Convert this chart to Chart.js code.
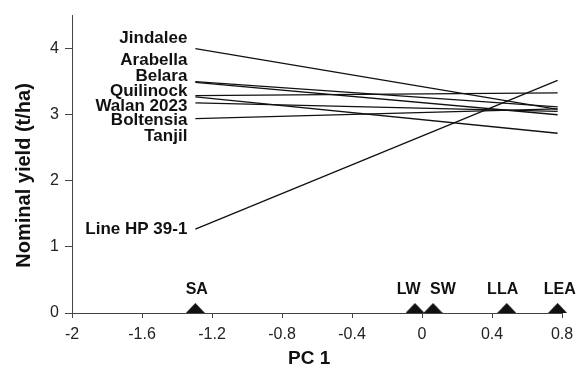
<!DOCTYPE html>
<html>
<head>
<meta charset="utf-8">
<script src="https://cdn.jsdelivr.net/npm/chart.js@4/dist/chart.umd.min.js"></script>
<style>
  html, body { margin: 0; padding: 0; background: #fff; }
  canvas { display: block; }
</style>
</head>
<body>
<canvas id="chart" width="584" height="372"></canvas>
<script>
// cultivars, yield at the SA end and at the LEA end of each line
const cultivars = ['Jindalee', 'Arabella', 'Belara', 'Quilinock', 'Walan 2023', 'Boltensia', 'Tanjil', 'Line HP 39-1'];
const yieldAtSA = [4.00, 3.50, 3.49, 3.29, 3.27, 3.18, 2.94, 1.27];
const yieldAtLEA = [3.08, 3.12, 3.00, 3.33, 2.72, 3.05, 3.09, 3.52];
// where the cultivar names sit (y, t/ha)
const cultivarLabelY = [4.15, 3.82, 3.58, 3.36, 3.13, 2.91, 2.67, 1.26];

// environments on PC 1
const environments = ['SA', 'LW', 'SW', 'LLA', 'LEA'];
const envPC1 = [-1.295, -0.04, 0.063, 0.484, 0.775];
const envLabelX = [-1.287, -0.076, 0.12, 0.461, 0.787];

const xTicks = [-2, -1.6, -1.2, -0.8, -0.4, 0, 0.4, 0.8];
const yTicks = [0, 1, 2, 3, 4];

const FONT = '"Liberation Sans", Arial, Helvetica, sans-serif';
const INK = '#111';

function triangleImage(w, h) {
    const c = document.createElement('canvas');
    c.width = w;
    c.height = h * 2;
    const g = c.getContext('2d');
    g.fillStyle = INK;
    g.beginPath();
    g.moveTo(0, h);
    g.lineTo(w, h);
    g.lineTo(w / 2, 0);
    g.closePath();
    g.fill();
    return c;
}

const xSA = envPC1[0];
const xLEA = envPC1[envPC1.length - 1];

const lineSets = cultivars.map((name, i) => ({
    label: name,
    data: [{x: xSA, y: yieldAtSA[i]}, {x: xLEA, y: yieldAtLEA[i]}],
    showLine: true,
    borderColor: INK,
    borderWidth: 1.3,
    pointRadius: 0,
    clip: false
}));

const markerSet = {
    label: 'environments',
    data: envPC1.map(v => ({x: v, y: 0})),
    pointStyle: triangleImage(19, 10),
    pointRadius: 10,
    showLine: false,
    clip: false
};

const textLabels = {
    id: 'textLabels',
    afterDatasetsDraw(chart) {
        const {ctx, scales: {x, y}} = chart;
        ctx.save();
        ctx.fillStyle = INK;
        ctx.font = 'bold 17px ' + FONT;
        ctx.textAlign = 'right';
        ctx.textBaseline = 'middle';
        const right = x.getPixelForValue(xSA) - 8;
        cultivars.forEach((name, i) => {
            ctx.fillText(name, right, y.getPixelForValue(cultivarLabelY[i]));
        });
        ctx.font = 'bold 16px ' + FONT;
        ctx.textAlign = 'center';
        const base = y.getPixelForValue(0) - 23;
        environments.forEach((name, i) => {
            ctx.fillText(name, x.getPixelForValue(envLabelX[i]), base);
        });
        ctx.restore();
    }
};

new Chart(document.getElementById('chart'), {
    type: 'scatter',
    data: { datasets: [...lineSets, markerSet] },
    options: {
        responsive: false,
        animation: false,
        layout: { padding: { top: 13, right: 22, left: 0, bottom: 0 } },
        plugins: { legend: { display: false }, tooltip: { enabled: false } },
        scales: {
            x: {
                type: 'linear',
                min: -2,
                max: 0.8,
                afterBuildTicks: scale => { scale.ticks = xTicks.map(v => ({value: v})); },
                afterFit: scale => { scale.height = 59; },
                ticks: {
                    color: '#222',
                    font: { family: FONT, size: 16 },
                    padding: 7,
                    maxRotation: 0,
                    callback: v => String(Number(Number(v).toFixed(1)))
                },
                grid: { drawOnChartArea: false, drawTicks: true, tickLength: 5, color: '#444' },
                border: { display: true, color: '#444', width: 1 },
                title: {
                    display: true,
                    text: 'PC 1   ',
                    color: INK,
                    font: { family: FONT, size: 19, weight: 'bold' },
                    padding: { top: 0, bottom: 2 }
                }
            },
            y: {
                type: 'linear',
                min: 0,
                max: 4.5,
                afterBuildTicks: scale => { scale.ticks = yTicks.map(v => ({value: v})); },
                afterFit: scale => { scale.width = 72; },
                ticks: {
                    color: '#222',
                    font: { family: FONT, size: 16 },
                    padding: 6
                },
                grid: { drawOnChartArea: false, drawTicks: true, tickLength: 7, color: '#444' },
                border: { display: true, color: '#444', width: 1 },
                title: {
                    display: true,
                    text: 'Nominal yield (t/ha)    ',
                    color: INK,
                    font: { family: FONT, size: 20, weight: 'bold' },
                    padding: { top: 12, bottom: 0 }
                }
            }
        }
    },
    plugins: [textLabels]
});
</script>
</body>
</html>
